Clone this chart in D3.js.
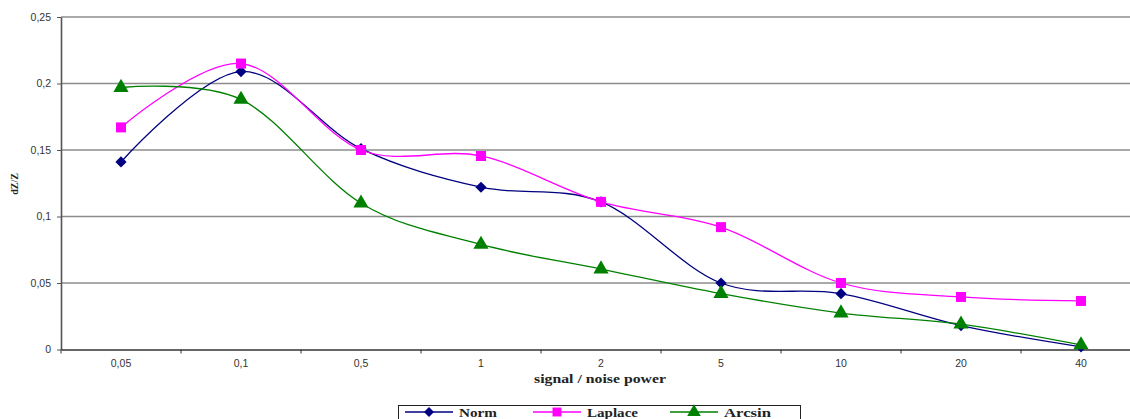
<!DOCTYPE html>
<html><head><meta charset="utf-8">
<script src="https://cdn.jsdelivr.net/npm/d3@7"></script>
<style>body{margin:0;background:#fff;overflow:hidden}</style>
</head><body>
<svg id="c" width="1130" height="419"></svg>
<script>
const categories = ["0,05","0,1","0,5","1","2","5","10","20","40"];
const norm    = [0.141,0.209,0.151,0.122,0.111,0.050,0.042,0.018,0.002];
const laplace = [0.167,0.215,0.150,0.1455,0.111,0.092,0.050,0.0395,0.0365];
const arcsin  = [0.197,0.188,0.110,0.079,0.0605,0.042,0.0274,0.019,0.0034];
const yTicks  = [0,0.05,0.1,0.15,0.2,0.25];
const seriesNames = ["Norm","Laplace","Arcsin"];
const seriesColors = ["#000080","#FF00FF","#008000"];
const seriesShapes = [d3.symbolDiamond2, d3.symbolSquare, d3.symbolTriangle];

const svg = d3.select("#c");
const L = 61, R = 1141, T = 17, B = 349.5;
const x = d3.scaleBand().domain(categories).range([L, R]);
const y = d3.scaleLinear().domain([0,0.25]).range([B, T]);
const fmt = d => d3.format("")(d).replace(".", ",");

// gridlines
svg.append("g").selectAll("line").data(yTicks.filter(d=>d>0)).join("line")
  .attr("x1", L).attr("x2", R).attr("y1", d=>y(d)).attr("y2", d=>y(d))
  .attr("stroke", "#8c8c8c").attr("stroke-width", 1.6);

// y axis
const ya = svg.append("g").attr("transform", `translate(${L},0)`)
  .call(d3.axisLeft(y).tickValues(yTicks).tickFormat(fmt).tickSize(4).tickSizeOuter(0));
ya.select(".domain").attr("stroke", "#555").attr("stroke-width", 1.6);
ya.selectAll(".tick line").attr("stroke", "#555");
ya.selectAll("text").attr("font-family", "Liberation Sans, Arial, sans-serif").attr("font-size", 10.5).attr("fill", "#333").attr("dx", "-3");

// x axis
const xa = svg.append("g").attr("transform", `translate(0,${B})`)
  .call(d3.axisBottom(x).tickSize(0).tickSizeOuter(0));
xa.select(".domain").attr("stroke", "#333").attr("stroke-width", 1.6);
xa.selectAll("text").attr("font-family", "Liberation Sans, Arial, sans-serif").attr("font-size", 10.5).attr("fill", "#333").attr("dy", "1.4em");
// tick marks at category boundaries
svg.append("g").selectAll("line").data(categories).join("line")
  .attr("x1", d=>x(d)).attr("x2", d=>x(d)).attr("y1", B).attr("y2", B+4)
  .attr("stroke", "#333");

// axis titles
svg.append("text").attr("x", 534).attr("y", 383)
  .attr("font-family", "Liberation Serif, Times New Roman, serif").attr("font-weight", "bold")
  .attr("font-size", 12.5).attr("textLength", 132).attr("lengthAdjust", "spacingAndGlyphs")
  .attr("fill", "#222").text("signal / noise power");
svg.append("text").attr("transform", "translate(18,184) rotate(-90)").attr("text-anchor", "middle")
  .attr("font-family", "Liberation Serif, Times New Roman, serif").attr("font-weight", "bold")
  .attr("font-size", 10).attr("fill", "#222").text("dZ/Z");

// series
const all = [norm, laplace, arcsin];
const line = d3.line().x((d,i)=>x(categories[i]) + x.bandwidth()/2).y(d=>y(d)).curve(d3.curveCatmullRom.alpha(0));
const sizes = [80, 100, 100];
all.forEach((s, k) => {
  svg.append("path").datum(s).attr("d", line).attr("fill", "none")
    .attr("stroke", seriesColors[k]).attr("stroke-width", 1.3);
});
all.forEach((s, k) => {
  svg.append("g").selectAll("path").data(s).join("path")
    .attr("transform", (d,i)=>`translate(${x(categories[i]) + x.bandwidth()/2},${y(d)})`)
    .attr("d", d3.symbol().type(seriesShapes[k]).size(sizes[k]))
    .attr("fill", seriesColors[k]);
});

// legend
const lg = svg.append("g");
lg.append("rect").attr("x", 398.5).attr("y", 405.5).attr("width", 402).attr("height", 30)
  .attr("fill", "#fff").attr("stroke", "#222").attr("stroke-width", 1);
const legX = [405, 533, 670];
const legLen = [38, 51, 47];
seriesNames.forEach((n, k) => {
  const g = lg.append("g").attr("transform", `translate(${legX[k]},412)`);
  g.append("line").attr("x1", 0).attr("x2", 48).attr("y1", 0).attr("y2", 0)
    .attr("stroke", seriesColors[k]).attr("stroke-width", 1.3);
  g.append("path").attr("transform", "translate(24,0)")
    .attr("d", d3.symbol().type(seriesShapes[k]).size(sizes[k]*0.8)).attr("fill", seriesColors[k]);
  g.append("text").attr("x", 54).attr("y", 5).attr("font-family", "Liberation Serif, Times New Roman, serif")
    .attr("font-weight", "bold").attr("font-size", 13).attr("textLength", legLen[k]).attr("lengthAdjust", "spacingAndGlyphs")
    .attr("fill", "#222").text(n);
});
</script>
</body></html>
